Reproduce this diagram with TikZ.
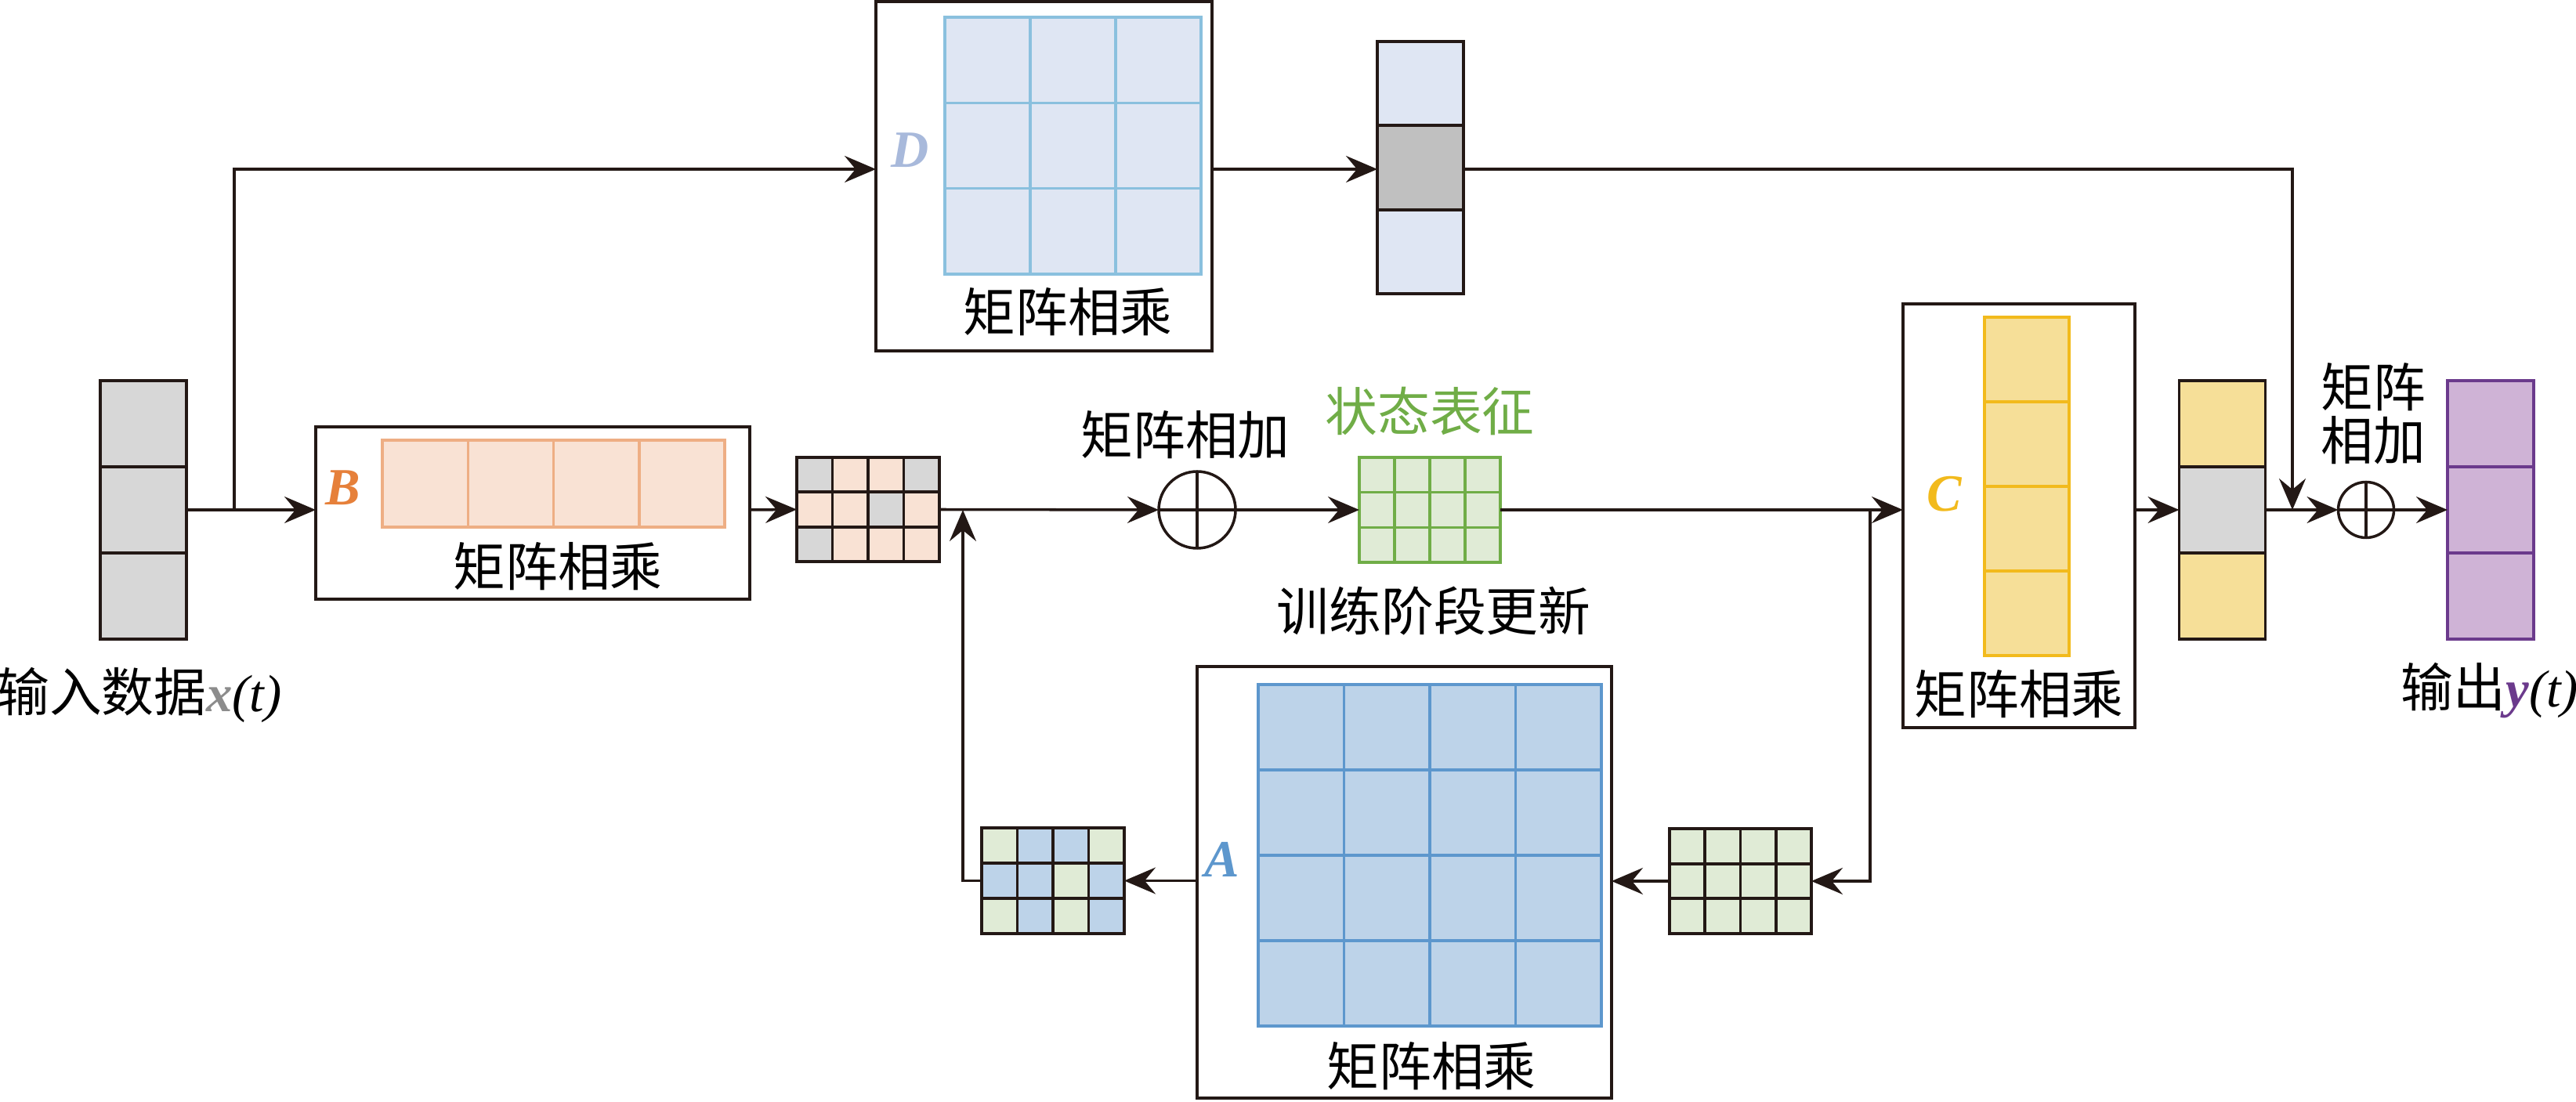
\documentclass[tikz,border=0pt]{standalone}
\usepackage{fontspec}
\setmainfont{Liberation Serif}
\newfontfamily\cjk{Noto Sans CJK SC}
\usetikzlibrary{arrows.meta,calc,positioning}

\definecolor{linec}{HTML}{231815}
\definecolor{gy}{HTML}{D7D7D7}
\definecolor{mgy}{HTML}{C0C0C0}
\definecolor{xgray}{HTML}{8C8C8C}
\definecolor{dbl}{HTML}{DFE6F3}
\definecolor{dstroke}{HTML}{8AC0DE}
\definecolor{dlab}{HTML}{A8B9DB}
\definecolor{pe}{HTML}{F9E2D4}
\definecolor{bstroke}{HTML}{EEAE84}
\definecolor{blab}{HTML}{E6803A}
\definecolor{ye}{HTML}{F6DF98}
\definecolor{ystroke}{HTML}{F2BA1C}
\definecolor{gr}{HTML}{E0EBD6}
\definecolor{gstroke}{HTML}{70AD47}
\definecolor{ab}{HTML}{BDD3E9}
\definecolor{astroke}{HTML}{5D97CD}
\definecolor{pu}{HTML}{CFB3D6}
\definecolor{pstroke}{HTML}{6B3A8C}

% cells of a matrix: top-left, columns, cell width, cell height, stroke, fills
\newcommand{\cellgrid}[6]{%
  \foreach \cfill [count=\cnum from 0] in {#6}{%
    \pgfmathsetmacro\gcol{mod(\cnum,#2)}%
    \pgfmathsetmacro\grow{floor(\cnum/#2)}%
    \draw[#5, fill=\cfill] ($(#1)+(\gcol*#3,-\grow*#4)$) rectangle ++(#3,-#4);
  }}

\tikzset{
  flow/.style={draw=linec, line width=1pt, -{Stealth[length=4mm,width=3.4mm,inset=1.4mm]}},
  opbox/.style={draw=linec, line width=1.2pt, fill=white, inner sep=0pt, outer sep=0pt},
  slot/.style={inner sep=0pt, outer sep=0pt, minimum width=1.1cm, minimum height=3.3cm},
  zh/.style={font=\cjk\fontsize{19}{19.5}\selectfont, text=black, inner sep=1pt},
  mlab/.style={font=\fontsize{19}{22}\selectfont\bfseries\itshape, inner sep=0pt},
  kcell/.style={draw=linec, line width=1.1pt},
  dcell/.style={draw=dstroke, line width=1pt},
  bcell/.style={draw=bstroke, line width=1pt},
  ycell/.style={draw=ystroke, line width=0.9pt},
  gcell/.style={draw=gstroke, line width=1pt},
  acell/.style={draw=astroke, line width=1pt},
  pcell/.style={draw=pstroke, line width=1pt},
  addop/.style={circle, draw=linec, line width=1pt, inner sep=0pt, outer sep=0pt,
    path picture={\draw[linec, line width=1pt]
      (path picture bounding box.north) -- (path picture bounding box.south)
      (path picture bounding box.west) -- (path picture bounding box.east);}},
}

\begin{document}
\begin{tikzpicture}
\useasboundingbox (0,0) rectangle (32.88,-14.07);
\coordinate (drow) at (0,-2.16);
\coordinate (mrow) at (0,-6.51);

% input
\node[slot] (vin) at (1.83,-6.51) {};
\cellgrid{vin.north west}{1}{1.1}{1.1}{kcell}{gy,gy,gy}
\node[zh] (inlab) at (1.78,-8.87) {输入数据{\rmfamily\textcolor{xgray}{\bfseries\itshape x}\itshape(t)}};
\coordinate (br) at (2.99,-6.51);

% D
\node[opbox, minimum width=4.29cm, minimum height=4.46cm] (dbox) at (13.325,-2.25) {};
\cellgrid{12.06,-0.22}{3}{1.09}{1.093}{dcell}{dbl,dbl,dbl,dbl,dbl,dbl,dbl,dbl,dbl}
\node[mlab, text=dlab] (dl) at (11.62,-1.92) {D};
\node[zh] (dt) at (13.63,-3.98) {矩阵相乘};
\node[slot, minimum height=3.22cm] (dvec) at (18.13,-2.14) {};
\cellgrid{dvec.north west}{1}{1.1}{1.0733}{kcell}{dbl,mgy,dbl}

% B
\node[opbox, minimum width=5.54cm, minimum height=2.2cm] (bbox) at (6.80,-6.55) {};
\cellgrid{4.88,-5.62}{4}{1.0925}{1.11}{bcell}{pe,pe,pe,pe}
\node[mlab, text=blab] (bl) at (4.38,-6.23) {B};
\node[zh] (bt) at (7.12,-7.23) {矩阵相乘};
\node[slot, minimum width=1.82cm, minimum height=1.33cm] (g1) at (11.08,-6.505) {};
\cellgrid{g1.north west}{4}{0.455}{0.4433}{kcell}{gy,pe,pe,gy,pe,pe,gy,pe,gy,pe,pe,pe}
\coordinate (fb) at (12.29,-6.51);

% add, state
\node[addop, minimum size=0.98cm] (add1) at (15.28,-6.51) {};
\node[zh] (add1t) at (15.13,-5.55) {矩阵相加};
\node[slot, minimum width=1.8cm, minimum height=1.34cm] (sg) at (18.25,-6.51) {};
\cellgrid{sg.north west}{4}{0.45}{0.4467}{gcell}{gr,gr,gr,gr,gr,gr,gr,gr,gr,gr,gr,gr}
\node[zh, text=gstroke] (sgt) at (18.25,-5.25) {状态表征};
\node[zh] (sgb) at (18.30,-7.80) {训练阶段更新};
\coordinate (jc) at (23.87,-6.51);

% C
\node[opbox, minimum width=2.96cm, minimum height=5.41cm] (cbox) at (25.77,-6.585) {};
\cellgrid{25.33,-4.05}{1}{1.08}{1.08}{ycell}{ye,ye,ye,ye}
\node[mlab, text=ystroke] (cl) at (24.82,-6.31) {C};
\node[zh] (ct) at (25.77,-8.86) {矩阵相乘};
\node[slot] (yvec) at (28.365,-6.51) {};
\cellgrid{yvec.north west}{1}{1.1}{1.1}{kcell}{ye,gy,ye}
\coordinate (jt) at (29.26,-6.51);

% output
\node[addop, minimum size=0.71cm] (add2) at (30.20,-6.51) {};
\node[zh, align=center] (add2t) at (30.29,-5.28) {矩阵\\相加};
\node[slot] (yout) at (31.79,-6.51) {};
\cellgrid{yout.north west}{1}{1.1}{1.1}{pcell}{pu,pu,pu}
\node[zh] (outlab) at (31.78,-8.82) {输出{\rmfamily\textcolor{pstroke}{\bfseries\itshape y}\itshape(t)}};

% A
\node[opbox, minimum width=5.29cm, minimum height=5.51cm] (abox) at (17.925,-11.265) {};
\cellgrid{16.06,-8.74}{4}{1.095}{1.09}{acell}{ab,ab,ab,ab,ab,ab,ab,ab,ab,ab,ab,ab,ab,ab,ab,ab}
\node[mlab, text=astroke] (al) at (15.60,-10.97) {A};
\node[zh] (atext) at (18.27,-13.61) {矩阵相乘};
\node[slot, minimum width=1.81cm, minimum height=1.34cm] (g3) at (22.215,-11.25) {};
\cellgrid{g3.north west}{4}{0.4525}{0.4467}{kcell}{gr,gr,gr,gr,gr,gr,gr,gr,gr,gr,gr,gr}
\node[slot, minimum width=1.82cm, minimum height=1.35cm] (g2) at (13.44,-11.245) {};
\cellgrid{g2.north west}{4}{0.455}{0.45}{kcell}{gr,ab,ab,gr,ab,ab,gr,ab,gr,ab,gr,ab}

% connectors
\draw[flow] (vin.east) -- (mrow -| bbox.west);
\draw[flow] (br) |- (drow -| dbox.west);
\draw[flow] (drow -| dbox.east) -- (drow -| dvec.west);
\draw[flow] (drow -| dvec.east) -| (jt);
\draw[flow] (mrow -| bbox.east) -- (g1.west);
\draw[flow] (g1.east) -- (add1.west);
\draw[flow] (add1.east) -- (sg.west);
\draw[flow] (sg.east) -- (mrow -| cbox.west);
\draw[flow] (mrow -| cbox.east) -- (yvec.west);
\draw[flow] (yvec.east) -- (add2.west);
\draw[flow] (add2.east) -- (yout.west);
% feedback
\draw[flow] (jc) |- (g3.east);
\draw[flow] (g3.west) -- (g3.west -| abox.east);
\draw[flow] (g2.east -| abox.west) -- (g2.east);
\draw[flow] (g2.west) -| (fb);
\end{tikzpicture}
\end{document}
